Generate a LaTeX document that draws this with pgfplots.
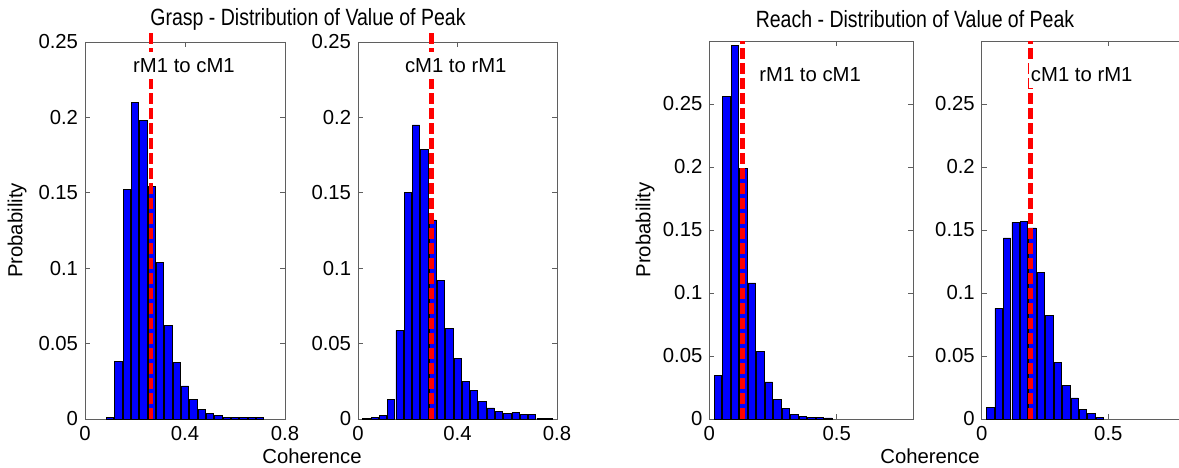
\documentclass[border=0pt]{standalone}
\usepackage{pgfplots}
\pgfplotsset{compat=1.18}
\usepackage{fontspec}
\setmainfont{Liberation Sans}
\newfontfamily\titlefont{Liberation Sans}[FakeStretch=0.83]
\definecolor{barblue}{RGB}{0,0,255}
\definecolor{framegray}{RGB}{95,95,95}
\newcommand{\fs}{\fontsize{20.3bp}{24bp}\selectfont}
\newcommand{\fst}{\titlefont\fontsize{23.5bp}{28bp}\selectfont}
\pgfplotsset{
  hist/.style={
    scale only axis,
    anchor=south west,
    xmin=0, xmax=0.8, ymin=0,
    axis line style={draw=framegray, line width=0.8bp},
    every tick/.style={draw=framegray, line width=0.8bp},
    major tick length=5bp,
    tick align=inside,
    ticklabel style={font=\fs},
    yticklabel style={/pgf/number format/fixed, /pgf/number format/precision=2},
    xticklabel style={/pgf/number format/fixed, /pgf/number format/precision=2},
    /pgf/number format/assume math mode=true,
    ylabel style={font=\fs, at={(axis description cs:-0.34,0.5)}, anchor=center},
    clip=false,
  },
  bars/.style={ybar, bar shift=0pt, bar width=0.029, fill=barblue, draw=black, line width=0.6bp},
  peak/.style={draw=red, line width=4.5bp, dash pattern=on 11bp off 4bp},
}
\tikzset{lbl/.style={fill=white, inner xsep=1.5bp, inner ysep=6bp, font=\fs}}
\begin{document}
\fs
\begin{tikzpicture}[x=1bp,y=1bp]
% Panel 1: Grasp rM1 to cM1
\begin{axis}[hist, at={(85bp,49bp)}, width=200bp, height=377bp, ymax=0.25,
  xtick={0,0.4,0.8}, ytick={0,0.05,0.1,0.15,0.2,0.25}, ylabel={Probability}]
\addplot[bars] coordinates {
(0.1000,0.0013) (0.1333,0.0380) (0.1667,0.1520) (0.2000,0.2100) (0.2333,0.1980)
(0.2667,0.1545) (0.3000,0.1037) (0.3333,0.0618) (0.3667,0.0375) (0.4000,0.0220)
(0.4333,0.0130) (0.4667,0.0066) (0.5000,0.0035) (0.5333,0.0024) (0.5667,0.0013)
(0.6000,0.0010) (0.6333,0.0009) (0.6667,0.0009) (0.7000,0.0008)};
\addplot[peak] coordinates {(0.263,0) (0.263,0.258)};
\node[lbl] at (axis cs:0.396,0.2344) {rM1 to cM1};
\end{axis}
% Panel 2: Grasp cM1 to rM1
\begin{axis}[hist, at={(358bp,49bp)}, width=199bp, height=377bp, ymax=0.25,
  xtick={0,0.4,0.8}, ytick={0,0.05,0.1,0.15,0.2,0.25}]
\addplot[bars] coordinates {
(0.0333,0.0005) (0.0667,0.0008) (0.1000,0.0022) (0.1333,0.0130) (0.1667,0.0587)
(0.2000,0.1500) (0.2333,0.1950) (0.2667,0.1790) (0.3000,0.1320) (0.3333,0.0920)
(0.3667,0.0600) (0.4000,0.0400) (0.4333,0.0250) (0.4667,0.0190) (0.5000,0.0117)
(0.5333,0.0073) (0.5667,0.0051) (0.6000,0.0035) (0.6333,0.0044) (0.6667,0.0029)
(0.7000,0.0029) (0.7333,0.0005) (0.7667,0.0005)};
\addplot[peak] coordinates {(0.296,0) (0.296,0.258)};
\node[lbl] at (axis cs:0.393,0.2344) {cM1 to rM1};
\end{axis}
% Panel 3: Reach rM1 to cM1
\begin{axis}[hist, at={(709.3bp,49bp)}, width=204bp, height=378bp, ymax=0.3,
  xtick={0,0.5}, ytick={0,0.05,0.1,0.15,0.2,0.25}, ylabel={Probability},
  ylabel style={at={(axis description cs:-0.315,0.5)}}]
\addplot[bars] coordinates {
(0.0333,0.0344) (0.0667,0.2560) (0.1000,0.2966) (0.1333,0.1990) (0.1667,0.1080)
(0.2000,0.0537) (0.2333,0.0294) (0.2667,0.0153) (0.3000,0.0082) (0.3333,0.0034)
(0.3667,0.0019) (0.4000,0.0010) (0.4333,0.0010) (0.4667,0.0008)};
\addplot[peak] coordinates {(0.131,0) (0.131,0.3)};
\node[lbl] at (axis cs:0.3955,0.2734) {rM1 to cM1};
\end{axis}
% Panel 4: Reach cM1 to rM1
\begin{axis}[hist, at={(981.7bp,49bp)}, width=202.6bp, height=378bp, ymax=0.3,
  xtick={0,0.5}, ytick={0,0.05,0.1,0.15,0.2,0.25}]
\addplot[bars] coordinates {
(0.0333,0.0095) (0.0667,0.0878) (0.1000,0.1437) (0.1333,0.1560) (0.1667,0.1570)
(0.2000,0.1516) (0.2333,0.1164) (0.2667,0.0823) (0.3000,0.0450) (0.3333,0.0265)
(0.3667,0.0167) (0.4000,0.0079) (0.4333,0.0042) (0.4667,0.0010)};
\addplot[peak] coordinates {(0.193,0) (0.193,0.3)};
\node[lbl] at (axis cs:0.395,0.2734) {cM1 to rM1};
\end{axis}
\node[font=\fst] at (308,449) {Grasp - Distribution of Value of Peak};
\node[font=\fst] at (915,449) {Reach - Distribution of Value of Peak};
\node[font=\fs] at (312,12.2) {Coherence};
\node[font=\fs] at (930,12.2) {Coherence};
\pgfresetboundingbox
\useasboundingbox (0,0) rectangle (1179,468);
\end{tikzpicture}
\end{document}
